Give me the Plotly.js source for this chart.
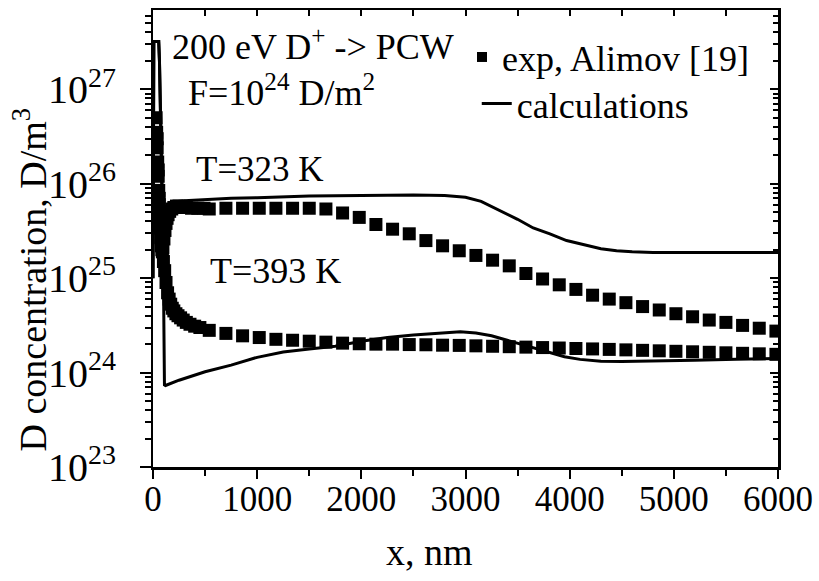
<!DOCTYPE html>
<html>
<head>
<meta charset="utf-8">
<script src="https://cdn.plot.ly/plotly-3.0.1.min.js"></script>
<style>html,body{margin:0;padding:0;background:#fff;}#chart{width:819px;height:581px;}</style>
</head>
<body>
<div id="chart"></div>
<script>
// Experimental data, T = 323 K
const xExp323 = [30,35,40,45,50,55,60,65,70,75,80,85,95,105,115,125,135,145,160,180,200,225,250,280,320,370,430,490,
  540,700,860,1020,1180,1340,1500,1660,1820,1980,2140,2300,2460,2620,2780,2940,3100,3260,3420,3580,3740,3900,4060,4220,4380,4540,4700,4860,5020,5180,5340,5500,5660,5820,5980];
const exp323 = [5e26,3.5e26,2.4e26,1.7e26,1.2e26,8.5e25,6e25,4.5e25,3.4e25,2.7e25,2.2e25,2e25,2.1e25,2.6e25,3.2e25,3.8e25,4.3e25,4.7e25,5.1e25,5.4e25,5.6e25,5.8e25,5.8e25,5.7e25,5.6e25,5.5e25,5.5e25,5.5e25,
  5.4e25,5.5e25,5.5e25,5.5e25,5.5e25,5.5e25,5.5e25,5.4e25,4.9e25,4.4e25,3.7e25,3.3e25,2.95e25,2.5e25,2.2e25,1.95e25,1.74e25,1.55e25,1.35e25,1.12e25,9.8e24,8.5e24,7.6e24,6.6e24,6.0e24,5.5e24,5.0e24,4.6e24,4.2e24,3.9e24,3.6e24,3.4e24,3.16e24,2.95e24,2.75e24];

// Experimental data, T = 393 K
const xExp393 = [40,50,60,70,80,90,100,112,125,140,155,170,185,200,220,240,265,290,320,355,400,450,
  540,700,860,1020,1180,1340,1500,1660,1820,1980,2140,2300,2460,2620,2780,2940,3100,3260,3420,3580,3740,3900,4060,4220,4380,4540,4700,4860,5020,5180,5340,5500,5660,5820,5980];
const exp393 = [3e26,1.4e26,7e25,4e25,2.6e25,1.9e25,1.5e25,1.2e25,9e24,7e24,6e24,5.3e24,4.8e24,4.5e24,4.2e24,4e24,3.8e24,3.6e24,3.4e24,3.25e24,3.1e24,3.0e24,
  2.8e24,2.6e24,2.45e24,2.35e24,2.25e24,2.2e24,2.15e24,2.1e24,2.05e24,2.02e24,2.0e24,2.0e24,1.98e24,1.97e24,1.95e24,1.94e24,1.92e24,1.9e24,1.88e24,1.86e24,1.84e24,1.82e24,1.8e24,1.78e24,1.76e24,1.74e24,1.72e24,1.7e24,1.68e24,1.66e24,1.64e24,1.62e24,1.6e24,1.58e24,1.56e24];

// Calculations, T = 323 K
const xCalc323 = [0,8,30,55,62,70,78,86,95,105,115,130,150,200,300,500,750,1000,1500,2000,2500,2800,3000,3150,3330,3500,3650,3810,3970,4130,4300,4450,4600,4800,5200,6000];
const calc323 = [1e25,3.2e27,3.2e27,3.2e27,2e27,5e26,2e26,9e25,5e25,4.4e25,4.8e25,5.5e25,6.1e25,6.4e25,6.6e25,6.8e25,7e25,7.1e25,7.4e25,7.5e25,7.6e25,7.5e25,7.2e25,6.5e25,5.2e25,4.2e25,3.4e25,2.95e25,2.5e25,2.25e25,2.05e25,1.95e25,1.9e25,1.87e25,1.87e25,1.87e25];

// Calculations, T = 393 K
const xCalc393 = [0,8,30,55,62,70,78,86,95,100,105,110,120,250,500,750,1000,1250,1500,1750,2000,2250,2500,2750,2950,3100,3250,3400,3600,3800,3950,4100,4300,4500,4800,5200,5600,6000];
const calc393 = [1e25,3.2e27,3.2e27,3.2e27,2e27,5e26,2e26,9e25,4e25,8e24,1.2e24,7.4e23,7.3e23,8.3e23,1.02e24,1.2e24,1.45e24,1.65e24,1.78e24,1.9e24,2.15e24,2.35e24,2.5e24,2.62e24,2.7e24,2.62e24,2.45e24,2.2e24,1.9e24,1.62e24,1.47e24,1.38e24,1.32e24,1.31e24,1.32e24,1.35e24,1.38e24,1.41e24];

const xTickVals = [0,1000,2000,3000,4000,5000,6000];
const xTickText = ['0','1000','2000','3000','4000','5000','6000'];
const legendNames = ['exp, Alimov [19]', 'calculations'];

const FONT = 'Liberation Serif, Times New Roman, serif';
const xRange = [0, 6000];
const yRange = [23, 27.84];

const markerStyle = {symbol: 'square', size: 13, color: '#000'};
const lineStyle = {color: '#000', width: 3};

const traces = [
  // legend carrier for the experiment (small squares, fully covered by the big ones drawn above)
  {x: xExp323, y: exp323, mode: 'markers', marker: {symbol: 'square', size: 10, color: '#000'}, name: legendNames[0], showlegend: true, legend: 'legend', hoverinfo: 'skip'},
  {x: xExp323, y: exp323, mode: 'markers', marker: markerStyle, showlegend: false, hoverinfo: 'skip'},
  {x: xCalc323, y: calc323, mode: 'lines', line: lineStyle, name: legendNames[1], showlegend: true, legend: 'legend2', hoverinfo: 'skip'},
  {x: xExp393, y: exp393, mode: 'markers', marker: markerStyle, showlegend: false, hoverinfo: 'skip'},
  {x: xCalc393, y: calc393, mode: 'lines', line: lineStyle, showlegend: false, hoverinfo: 'skip'},
  // carrier for the mirrored (top/right) axes
  {x: xCalc393, y: calc393, xaxis: 'x2', yaxis: 'y2', mode: 'lines', line: {color: 'rgba(0,0,0,0)', width: 0}, opacity: 0, showlegend: false, hoverinfo: 'skip'}
];

const legendFont = {family: FONT, size: 36, color: '#000'};
const layout = {
  width: 819, height: 581,
  margin: {l: 153, r: 41, t: 10, b: 114},
  paper_bgcolor: '#fff', plot_bgcolor: '#fff',
  font: {family: FONT, color: '#000', size: 32},
  showlegend: true,
  legend: {x: 0.4944, y: 0.897, xanchor: 'left', yanchor: 'middle', bgcolor: 'rgba(0,0,0,0)', font: legendFont, itemclick: false},
  legend2: {x: 0.518, y: 0.795, xanchor: 'left', yanchor: 'middle', bgcolor: 'rgba(0,0,0,0)', font: legendFont, itemclick: false},
  xaxis: {
    type: 'linear', range: xRange, tickvals: xTickVals, ticktext: xTickText,
    ticks: 'outside', ticklen: 9, tickwidth: 2, tickcolor: '#000', ticklabelstandoff: -10,
    minor: {dtick: 500, tick0: 0, ticks: 'outside', ticklen: 6, tickwidth: 2, tickcolor: '#000'},
    showline: true, linewidth: 2.5, linecolor: '#000', showgrid: false, zeroline: false,
    tickfont: {family: FONT, size: 35, color: '#000'}
  },
  yaxis: {
    type: 'log', range: yRange, dtick: 1, exponentformat: 'power',
    ticks: 'outside', ticklen: 11, tickwidth: 2, tickcolor: '#000', ticklabelstandoff: 17,
    minor: {dtick: 'D1', ticks: 'outside', ticklen: 6, tickwidth: 2, tickcolor: '#000'},
    showline: true, linewidth: 2.5, linecolor: '#000', showgrid: false, zeroline: false,
    tickfont: {family: FONT, size: 32, color: '#000'}
  },
  xaxis2: {
    overlaying: 'x', side: 'top', anchor: 'y2', type: 'linear', range: xRange,
    dtick: 500, tick0: 0, ticks: 'inside', ticklen: 6, tickwidth: 2, tickcolor: '#000',
    showticklabels: false, showline: true, linewidth: 2.5, linecolor: '#000', showgrid: false, zeroline: false
  },
  yaxis2: {
    overlaying: 'y', side: 'right', anchor: 'x2', type: 'log', range: yRange, dtick: 1,
    ticks: 'inside', ticklen: 8, tickwidth: 2, tickcolor: '#000',
    minor: {dtick: 'D1', ticks: 'inside', ticklen: 5, tickwidth: 2, tickcolor: '#000'},
    showticklabels: false, showline: true, linewidth: 2.5, linecolor: '#000', showgrid: false, zeroline: false
  },
  annotations: [
    {text: 'x, nm', xref: 'paper', yref: 'paper', x: 0.443, y: -0.186, xanchor: 'center', yanchor: 'middle', showarrow: false, font: {family: FONT, size: 38, color: '#000'}},
    {text: 'D concentration, D/m<sup>3</sup>', xref: 'paper', yref: 'paper', x: -0.197, y: 0.41, xanchor: 'center', yanchor: 'middle', textangle: -90, showarrow: false, font: {family: FONT, size: 38, color: '#000'}},
    {text: '200 eV D<sup>+</sup> -> PCW', xref: 'paper', yref: 'paper', x: 0.027, y: 0.925, xanchor: 'left', yanchor: 'middle', showarrow: false, font: {family: FONT, size: 36, color: '#000'}},
    {text: 'F=10<sup>24</sup> D/m<sup>2</sup>', xref: 'paper', yref: 'paper', x: 0.052, y: 0.824, xanchor: 'left', yanchor: 'middle', showarrow: false, font: {family: FONT, size: 36, color: '#000'}},
    {text: 'T=323 K', xref: 'paper', yref: 'paper', x: 0.066, y: 0.652, xanchor: 'left', yanchor: 'middle', showarrow: false, font: {family: FONT, size: 35, color: '#000'}},
    {text: 'T=393 K', xref: 'paper', yref: 'paper', x: 0.088, y: 0.429, xanchor: 'left', yanchor: 'middle', showarrow: false, font: {family: FONT, size: 36, color: '#000'}}
  ]
};

Plotly.newPlot('chart', traces, layout, {staticPlot: true, displayModeBar: false});
</script>
</body>
</html>
